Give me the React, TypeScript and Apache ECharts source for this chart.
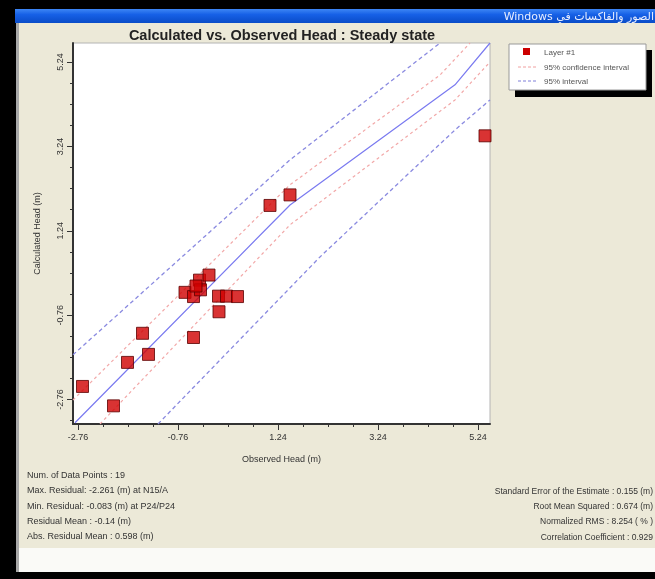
import React, { useEffect, useRef } from "react";
import * as echarts from "echarts";

// Observed vs calculated heads (Layer #1)
const observedHead = [-2.67, -2.05, -1.77, -1.47, -1.35, -0.62, -0.45, -0.45, -0.33, -0.31, -0.40, -0.14, 0.05, 0.06, 0.21, 0.43, 1.08, 1.48, 5.38];
const calculatedHead = [-2.45, -2.91, -1.88, -1.19, -1.69, -0.22, -0.32, -1.29, 0.07, -0.16, -0.07, 0.19, -0.31, -0.68, -0.31, -0.32, 1.84, 2.09, 3.49];

// Fit line and intervals
const fitX = [-2.82, 1.48, 4.78, 5.48];
const fitY = [-3.31, 1.85, 4.70, 5.69];
const confUpperX = [-2.86, 1.48, 4.48, 5.08];
const confUpperY = [-2.77, 2.33, 4.93, 5.69];
const confLowerX = [-2.32, 1.48, 4.78, 5.48];
const confLowerY = [-3.34, 1.38, 4.34, 5.24];
const predUpperX = [-2.86, 1.48, 4.48];
const predUpperY = [-1.70, 2.92, 5.69];
const predLowerX = [-1.16, 2.08, 4.78, 5.48];
const predLowerY = [-3.34, 0.62, 3.63, 4.34];

// Tick labels
const majorTicks = [-2.76, -0.76, 1.24, 3.24, 5.24];
const minorTicksX = [-2.26, -1.76, -1.26, -0.26, 0.24, 0.74, 1.74, 2.24, 2.74, 3.74, 4.24, 4.74];
const minorTicksY = [-3.26, -2.26, -1.76, -1.26, -0.26, 0.24, 0.74, 1.74, 2.24, 2.74, 3.74, 4.24, 4.74];

const statsLeft = [
  "Num. of Data Points : 19",
  "Max. Residual: -2.261 (m) at N15/A",
  "Min. Residual: -0.083 (m) at P24/P24",
  "Residual Mean : -0.14 (m)",
  "Abs. Residual Mean : 0.598 (m)",
];
const statsRight = [
  "Standard Error of the Estimate : 0.155 (m)",
  "Root Mean Squared : 0.674 (m)",
  "Normalized RMS : 8.254 ( % )",
  "Correlation Coefficient : 0.929",
];

const X_MIN = -2.86, X_MAX = 5.48, Y_MIN = -3.34, Y_MAX = 5.69;
const FONT = "'Liberation Sans', Arial, sans-serif";

const pairs = (xs: number[], ys: number[]) => xs.map((x, i) => [x, ys[i]]);

export default function App() {
  const ref = useRef<HTMLDivElement>(null);
  useEffect(() => {
    if (!ref.current) return;
    const chart = echarts.init(ref.current, null, { renderer: "svg" });
    const lbl = { fontSize: 9, color: "#333", fontFamily: FONT };
    const graphics: any[] = [
      { type: "rect", z: -100, shape: { x: 0, y: 0, width: 655, height: 579 }, style: { fill: "#000" } },
      { type: "rect", z: -99, shape: { x: 16, y: 23, width: 639, height: 549 }, style: { fill: "#a8a8a8" } },
      { type: "rect", z: -98, shape: { x: 19, y: 23, width: 636, height: 525 }, style: { fill: "#ece9d8" } },
      { type: "rect", z: -98, shape: { x: 19, y: 548, width: 636, height: 24 }, style: { fill: "#fafaf7" } },
      {
        type: "rect", z: -98, shape: { x: 15, y: 9, width: 640, height: 14 },
        style: { fill: new echarts.graphic.LinearGradient(0, 0, 0, 1, [
          { offset: 0, color: "#3d86f5" }, { offset: 0.4, color: "#1660e6" }, { offset: 1, color: "#0a4cc8" },
        ]) },
      },
      { type: "text", z: 10, x: 654, y: 16, style: { text: "Windows الصور والفاكسات في", fill: "#e8eeff", font: "11px 'DejaVu Sans'", align: "right", verticalAlign: "middle" } },
      { type: "text", z: 10, x: 282, y: 35, style: { text: "Calculated vs. Observed Head : Steady state", fill: "#222", font: `bold 14.5px ${FONT}`, align: "center", verticalAlign: "middle" } },
      // legend
      { type: "rect", z: 10, shape: { x: 515, y: 50, width: 137, height: 47 }, style: { fill: "#000" } },
      { type: "rect", z: 11, shape: { x: 509, y: 44, width: 137, height: 46 }, style: { fill: "#fff", stroke: "#999", lineWidth: 1 } },
      { type: "rect", z: 12, shape: { x: 523, y: 48, width: 7, height: 7 }, style: { fill: "#cc0000" } },
      { type: "text", z: 12, x: 544, y: 52, style: { text: "Layer #1", fill: "#555", font: `8px ${FONT}`, verticalAlign: "middle" } },
      { type: "line", z: 12, shape: { x1: 518, y1: 67, x2: 538, y2: 67 }, style: { stroke: "#f0a0a0", lineWidth: 1, lineDash: [3, 2] } },
      { type: "text", z: 12, x: 544, y: 67, style: { text: "95% confidence interval", fill: "#555", font: `8px ${FONT}`, verticalAlign: "middle" } },
      { type: "line", z: 12, shape: { x1: 518, y1: 81, x2: 538, y2: 81 }, style: { stroke: "#7f7fd8", lineWidth: 1, lineDash: [3, 2] } },
      { type: "text", z: 12, x: 544, y: 81, style: { text: "95% interval", fill: "#555", font: `8px ${FONT}`, verticalAlign: "middle" } },
    ];
    statsLeft.forEach((t, i) => graphics.push({ type: "text", z: 10, x: 27, y: 475 + i * 15.3, style: { text: t, fill: "#333", font: `9px ${FONT}`, verticalAlign: "middle" } }));
    statsRight.forEach((t, i) => graphics.push({ type: "text", z: 10, x: 653, y: 491 + i * 15.2, style: { text: t, fill: "#333", font: `8.5px ${FONT}`, align: "right", verticalAlign: "middle" } }));

    const baseAxis = { type: "value", min: X_MIN, max: X_MAX, splitLine: { show: false } };
    chart.setOption({
      animation: false,
      grid: { left: 73, top: 43, width: 417, height: 381, show: true, backgroundColor: "#fff", borderColor: "#b4b4b4", borderWidth: 1 },
      xAxis: [
        {
          ...baseAxis,
          axisLine: { show: true, onZero: false, lineStyle: { color: "#333", width: 2 } },
          axisTick: { show: true, length: 6, customValues: majorTicks, lineStyle: { color: "#333" } },
          axisLabel: { ...lbl, customValues: majorTicks, margin: 8, formatter: (v: number) => v.toFixed(2) },
          name: "Observed Head (m)", nameLocation: "middle", nameGap: 30, nameTextStyle: { ...lbl },
        },
        {
          ...baseAxis, position: "bottom",
          axisLine: { show: false, onZero: false },
          axisTick: { show: true, length: 3, customValues: minorTicksX, lineStyle: { color: "#333" } },
          axisLabel: { show: false },
        },
      ],
      yAxis: [
        {
          type: "value", min: Y_MIN, max: Y_MAX, splitLine: { show: false },
          axisLine: { show: true, onZero: false, lineStyle: { color: "#333", width: 2 } },
          axisTick: { show: true, length: 6, customValues: majorTicks, lineStyle: { color: "#333" } },
          axisLabel: { ...lbl, customValues: majorTicks, rotate: 90, margin: 9, formatter: (v: number) => v.toFixed(2) },
          name: "Calculated Head (m)", nameLocation: "middle", nameGap: 32, nameRotate: 90, nameTextStyle: { ...lbl },
        },
        {
          type: "value", min: Y_MIN, max: Y_MAX, position: "left", splitLine: { show: false },
          axisLine: { show: false, onZero: false },
          axisTick: { show: true, length: 3, customValues: minorTicksY, lineStyle: { color: "#333" } },
          axisLabel: { show: false },
        },
      ],
      series: [
        { type: "line", name: "95% interval upper", data: pairs(predUpperX, predUpperY), showSymbol: false, lineStyle: { color: "#8a8ae0", width: 1.3, type: [4, 3] }, z: 2 },
        { type: "line", name: "95% interval lower", data: pairs(predLowerX, predLowerY), showSymbol: false, lineStyle: { color: "#8a8ae0", width: 1.3, type: [4, 3] }, z: 2 },
        { type: "line", name: "95% confidence upper", data: pairs(confUpperX, confUpperY), showSymbol: false, lineStyle: { color: "#f2a8a8", width: 1.2, type: [3, 3] }, z: 2 },
        { type: "line", name: "95% confidence lower", data: pairs(confLowerX, confLowerY), showSymbol: false, lineStyle: { color: "#f2a8a8", width: 1.2, type: [3, 3] }, z: 2 },
        { type: "line", name: "fit", data: pairs(fitX, fitY), showSymbol: false, lineStyle: { color: "#7a7af0", width: 1.2 }, z: 3 },
        {
          type: "scatter", name: "Layer #1", data: pairs(observedHead, calculatedHead), symbol: "rect", symbolSize: 12,
          itemStyle: { color: "#d00000", borderColor: "#5a0000", borderWidth: 1 }, z: 5,
        },
      ],
      graphic: graphics,
    });
    return () => chart.dispose();
  }, []);
  return <div ref={ref} style={{ position: "fixed", left: 0, top: 0, width: 655, height: 579 }} />;
}
